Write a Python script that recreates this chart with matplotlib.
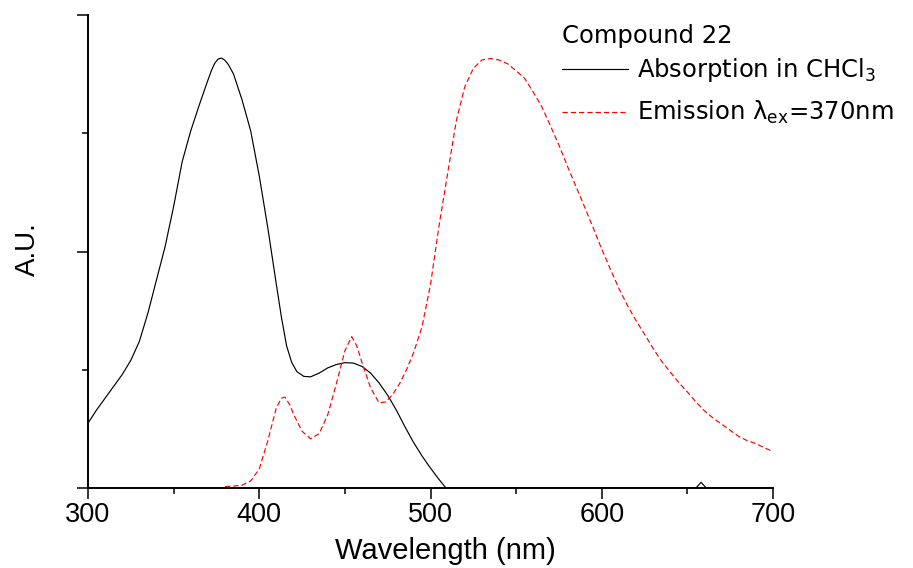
import matplotlib
matplotlib.use("Agg")
import numpy as np
import matplotlib.pyplot as plt
from matplotlib.ticker import MultipleLocator, NullFormatter

plt.rcParams["font.family"] = ["Liberation Sans", "DejaVu Sans"]
plt.rcParams["mathtext.fontset"] = "custom"
plt.rcParams["mathtext.rm"] = "DejaVu Sans"
plt.rcParams["mathtext.it"] = "DejaVu Sans"

# absorption spectrum in CHCl3
abs_wl = [300, 305, 310, 315, 320, 325, 330, 335, 340, 345, 350, 355, 360, 365,
          370, 372, 374, 376, 378, 380, 382, 385, 390, 395, 400, 405, 410, 413,
          416, 419, 422, 426, 430, 435, 440, 445, 450, 455, 460, 465, 470, 475,
          480, 485, 490, 495, 500, 505, 509, 520, 600, 650, 655, 658, 661, 665,
          700]
abs_val = [0.137, 0.165, 0.19, 0.215, 0.24, 0.27, 0.31, 0.37, 0.44, 0.51, 0.595,
           0.69, 0.755, 0.81, 0.862, 0.882, 0.898, 0.907, 0.909, 0.904, 0.895,
           0.875, 0.82, 0.755, 0.66, 0.55, 0.43, 0.36, 0.30, 0.265, 0.246,
           0.236, 0.235, 0.243, 0.254, 0.261, 0.265, 0.264, 0.257, 0.243, 0.222,
           0.196, 0.165, 0.13, 0.097, 0.068, 0.042, 0.018, 0.0, 0.0, 0.0, 0.0,
           0.0, 0.012, 0.0, 0.0, 0.0]

# emission spectrum, excitation 370 nm
em_wl = [380, 385, 390, 395, 400, 405, 410, 413, 415, 418, 420, 425, 430, 435,
         440, 445, 450, 454, 457, 460, 465, 470, 474, 478, 482, 486, 490, 495,
         500, 505, 510, 515, 520, 525, 530, 535, 540, 545, 550, 555, 560, 565,
         570, 575, 580, 585, 590, 595, 600, 605, 610, 615, 620, 625, 630, 635,
         640, 645, 650, 655, 660, 665, 670, 675, 680, 685, 690, 695, 700]
em_val = [0.003, 0.004, 0.006, 0.015, 0.04, 0.1, 0.17, 0.19, 0.192, 0.175, 0.156,
          0.12, 0.104, 0.115, 0.155, 0.22, 0.29, 0.32, 0.3, 0.265, 0.212, 0.18,
          0.182, 0.198, 0.221, 0.25, 0.285, 0.34, 0.43, 0.555, 0.665, 0.775,
          0.848, 0.887, 0.905, 0.908, 0.905, 0.897, 0.882, 0.866, 0.837, 0.806,
          0.766, 0.725, 0.68, 0.637, 0.594, 0.55, 0.505, 0.463, 0.422, 0.386,
          0.354, 0.325, 0.295, 0.268, 0.245, 0.223, 0.203, 0.182, 0.163, 0.148,
          0.135, 0.122, 0.109, 0.1, 0.094, 0.085, 0.077]

fig = plt.figure(figsize=(9.13, 5.68), dpi=100)
ax = fig.add_axes([88 / 913, 1 - 488 / 568, 685 / 913, 473 / 568])

ax.plot(abs_wl, abs_val, color="black", linewidth=0.85, label="Absorption in CHCl$_3$")
ax.plot(em_wl, em_val, color="#ff0000", linewidth=0.85, linestyle=(0, (4.5, 2.5)),
        label=r"Emission $\lambda_{ex}$=370nm")

ax.set_xlim(300, 700)
ax.set_ylim(0, 1)
ax.xaxis.set_major_locator(MultipleLocator(100))
ax.xaxis.set_minor_locator(MultipleLocator(50))
ax.yaxis.set_major_locator(MultipleLocator(0.5))
ax.yaxis.set_minor_locator(MultipleLocator(0.25))
ax.yaxis.set_major_formatter(NullFormatter())

for side in ("top", "right"):
    ax.spines[side].set_visible(False)
for side in ("left", "bottom"):
    ax.spines[side].set_linewidth(1.4)
ax.tick_params(which="major", direction="out", length=8, width=1.1, labelsize=19.5, pad=2)
ax.tick_params(which="minor", direction="out", length=4.5, width=1.1)

ax.set_xlabel("Wavelength (nm)", fontsize=21)
ax.xaxis.set_label_coords(0.521, -0.104)
ax.set_ylabel("A.U.", fontsize=20)
ax.yaxis.set_label_coords(-0.069, 0.506)

ax.text(0.692, 0.941, "Compound 22", transform=ax.transAxes, va="baseline",
        ha="left", family="DejaVu Sans", fontsize=17.5)
leg = ax.legend(loc="upper left", bbox_to_anchor=(0.692, 0.913), frameon=False,
                prop={"family": "DejaVu Sans", "size": 17.5},
                borderpad=0, borderaxespad=0,
                handlelength=2.7, handletextpad=0.4, labelspacing=0.62)

fig.savefig("out.png", dpi=100)
